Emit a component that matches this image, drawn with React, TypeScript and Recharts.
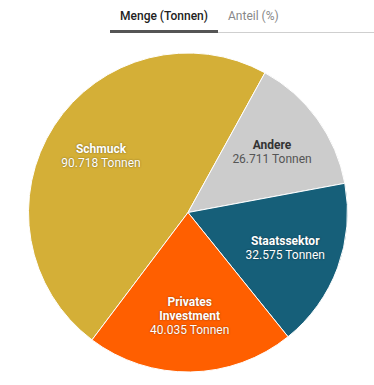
import { Cell, Pie, PieChart } from "recharts";

const categories = ["Schmuck", "Andere", "Staatssektor", "Privates Investment"];
const tonnes = [90718, 26711, 32575, 40035];
const valueLabels = ["90.718", "26.711", "32.575", "40.035"];
const tabs = ["Menge (Tonnen)", "Anteil (%)"];

const colors = ["#d4af37", "#cccccc", "#165f79", "#ff5f00"];
const darkText = ["#fff", "#333", "#fff", "#fff"];

const data = categories.map((name, i) => ({ name, value: tonnes[i], label: valueLabels[i] }));

const RAD = Math.PI / 180;
const font = "Roboto, 'Noto Sans', sans-serif";

function renderLabel(props: any) {
  const { cx, cy, midAngle, outerRadius, index } = props;
  const r = outerRadius * 0.65;
  const x = cx + r * Math.cos(-midAngle * RAD);
  const y = cy + r * Math.sin(-midAngle * RAD);
  const d = data[index];
  const words = d.name.split(" ");
  const lines = [...words.map((w) => ({ t: w, bold: true })), { t: `${d.label} Tonnen`, bold: false }];
  const lh = 14;
  const top = y - ((lines.length - 1) * lh) / 2;
  const light = darkText[index] === "#fff";
  return (
    <text
      x={x}
      y={top}
      textAnchor="middle"
      dominantBaseline="central"
      fontFamily={font}
      fontSize={12}
      style={light ? { textShadow: "0 0 2px rgba(0,0,0,0.45)" } : undefined}
    >
      {lines.map((l, i) => (
        <tspan
          key={i}
          x={x}
          y={top + i * lh}
          fontWeight={l.bold ? 700 : 400}
          fill={light ? "#fff" : l.bold ? "#333" : "#555"}
        >
          {l.t}
        </tspan>
      ))}
    </text>
  );
}

export default function App() {
  return (
    <div style={{ position: "absolute", left: 0, top: 0, width: 374, height: 385, background: "#fff", fontFamily: font }}>
      <div style={{ position: "absolute", left: 110, top: 32, width: 264, height: 1, background: "#cfcfcf" }} />
      <div style={{ position: "absolute", left: 110, top: 30, width: 108, height: 3, background: "#555" }} />
      <div style={{ position: "absolute", left: 110, width: 108, top: 8, fontSize: 12, fontWeight: 500, color: "#222", textAlign: "center", lineHeight: "16px" }}>
        {tabs[0]}
      </div>
      <div style={{ position: "absolute", left: 228, top: 8, fontSize: 12, color: "#888", lineHeight: "16px" }}>
        {tabs[1]}
      </div>
      <div style={{ position: "absolute", left: 0, top: 0 }}>
        <PieChart width={374} height={385} margin={{ top: 0, right: 0, bottom: 0, left: 0 }}>
          <Pie
            data={data}
            dataKey="value"
            nameKey="name"
            cx={188}
            cy={212.5}
            outerRadius={159.5}
            startAngle={-127}
            endAngle={-487}
            stroke="#fff"
            strokeWidth={1}
            label={renderLabel}
            labelLine={false}
            isAnimationActive={false}
          >
            {data.map((d, i) => (
              <Cell key={d.name} fill={colors[i]} />
            ))}
          </Pie>
        </PieChart>
      </div>
    </div>
  );
}
